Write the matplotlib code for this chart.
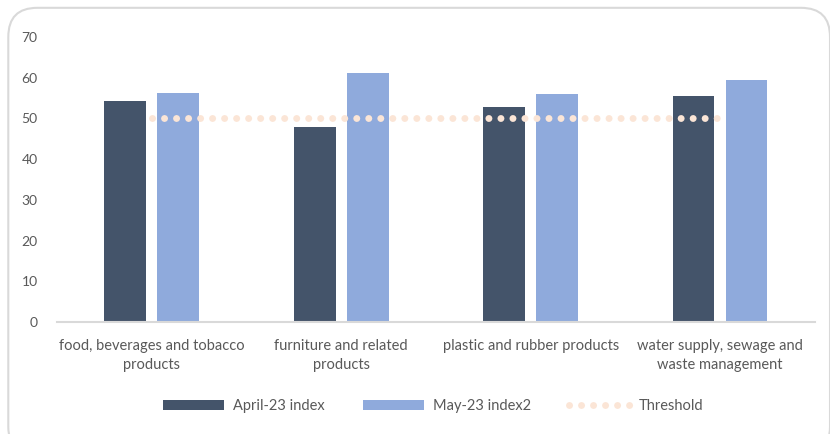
import numpy as np
import matplotlib.pyplot as plt
from matplotlib.patches import FancyBboxPatch

# data
categories = ["food, beverages and tobacco\nproducts",
              "furniture and related\nproducts",
              "plastic and rubber products",
              "water supply, sewage and\nwaste management"]
april_vals = [54.3, 47.9, 52.8, 55.5]
may_vals = [56.3, 61.2, 56.0, 59.5]
threshold = [50, 50, 50, 50]

plt.rcParams['font.family'] = ['Lato', 'DejaVu Sans']
txt = '#595959'

fig = plt.figure(figsize=(8.3, 4.34), dpi=100)
ax = fig.add_axes([0.0687, 0.258, 0.913, 0.657])

# rounded chart border
border = FancyBboxPatch((0.010, -0.05), 0.99, 1.032, boxstyle="round,pad=0,rounding_size=0.035",
                        transform=fig.transFigure, facecolor='white', edgecolor='#D9D9D9',
                        linewidth=1.5, zorder=-10, mutation_aspect=830/434)
fig.patches.append(border)

x = np.arange(len(categories))
w = 0.22
b1 = ax.bar(x - 0.14, april_vals, w, color='#44546A', label='April-23 index', zorder=2)
b2 = ax.bar(x + 0.14, may_vals, w, color='#8FAADC', label='May-23 index2', zorder=2)
ln, = ax.plot(x, threshold, color='#FBE5D6', linewidth=5, linestyle=(0, (0.01, 1.72)),
              dash_capstyle='round', label='Threshold', zorder=3)

ax.set_xlim(-0.5, 3.5)
ax.set_ylim(0, 70)
ax.set_yticks(range(0, 71, 10))
ax.set_xticks(x)
ax.set_xticklabels(categories, fontsize=10.5, color=txt, linespacing=1.45)
ax.tick_params(axis='y', length=0, labelsize=10, labelcolor=txt, pad=14)
ax.tick_params(axis='x', length=0, pad=12)
for s in ['top', 'right', 'left']:
    ax.spines[s].set_visible(False)
ax.spines['bottom'].set_color('#D9D9D9')
ax.spines['bottom'].set_linewidth(1.5)

leg = fig.legend([b1, b2, ln], ['April-23 index', 'May-23 index2', 'Threshold'],
                 loc='center', bbox_to_anchor=(0.522, 0.064), ncol=3, frameon=False,
                 fontsize=10.5, handlelength=4.2, handleheight=0.6, columnspacing=2.6,
                 handletextpad=0.6)
for t in leg.get_texts():
    t.set_color(txt)

plt.savefig("out.png", dpi=100)
